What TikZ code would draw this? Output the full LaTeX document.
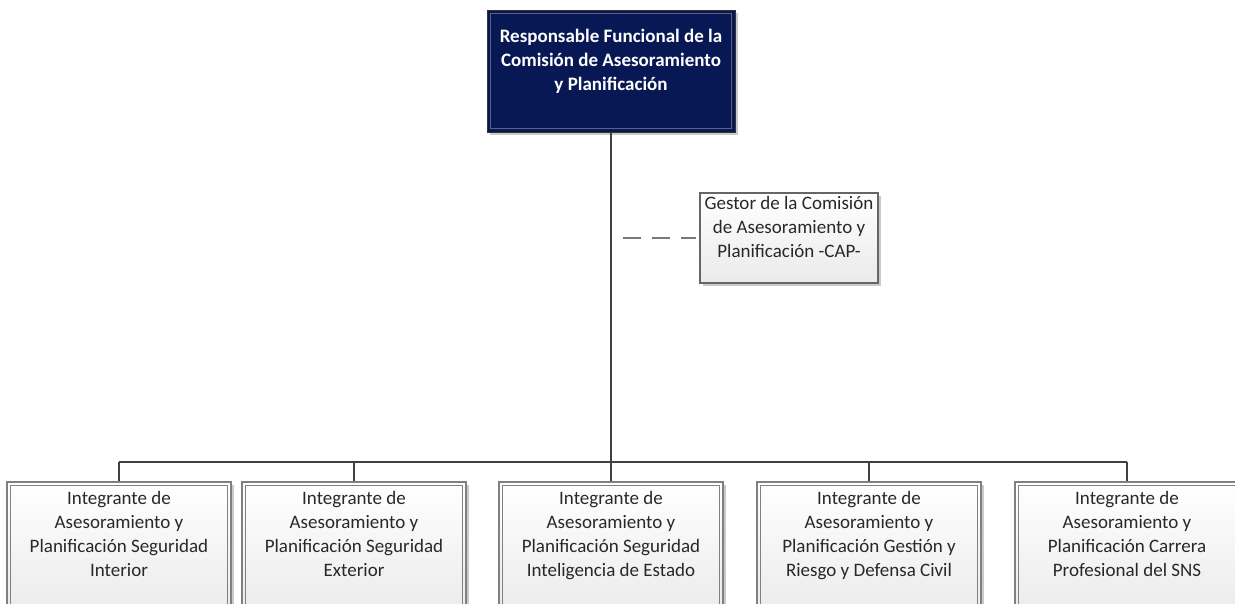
\documentclass[tikz,border=0pt]{standalone}
\usepackage{fontspec}
\setmainfont{Carlito}
\usetikzlibrary{shadows}

\definecolor{navyfill}{RGB}{8,24,84}
\definecolor{navyinner}{RGB}{90,100,130}
\definecolor{connline}{RGB}{64,64,64}
\definecolor{boxline}{RGB}{128,128,128}
\definecolor{boxgray}{RGB}{234,234,234}
\definecolor{textgray}{RGB}{40,40,40}
\definecolor{dashgray}{RGB}{120,120,120}

\begin{document}
\begin{tikzpicture}[x=1pt,y=-1pt,
  boxshadow/.style={drop shadow={shadow xshift=3pt,shadow yshift=-3pt,opacity=0.35,fill=black!60}},
  headbox/.style={draw=black!80,line width=1pt,fill=navyfill,minimum width=248pt,minimum height=122pt,inner sep=0pt,boxshadow},
  unitbox/.style={draw=boxline,line width=1.2pt,top color=white,bottom color=boxgray,minimum width=224pt,minimum height=138pt,inner sep=0pt,boxshadow},
  staffbox/.style={draw=black!60,line width=1.2pt,top color=white,bottom color=boxgray,minimum width=178pt,minimum height=90pt,inner sep=0pt,boxshadow},
  innerline/.style={draw=boxline,line width=1pt},
  headinner/.style={draw=navyinner,line width=0.8pt},
  labeltext/.style={anchor=north,align=center,inner sep=0pt,text=textgray,font=\fontsize{19}{24}\selectfont},
  headtext/.style={anchor=north,align=center,inner sep=0pt,text=white,font=\fontsize{19}{24}\selectfont\bfseries},
  conn/.style={draw=connline,line width=1.6pt},
  staffconn/.style={draw=dashgray,line width=2.4pt,dash pattern=on 18pt off 11pt,shorten <=12pt,shorten >=3pt}
]
\useasboundingbox (0,0) rectangle (1235,603);

% head of the commission
\node[headbox] (head) at (611,71) {};
\draw[headinner] ([shift={(4pt,-4pt)}]head.north west) rectangle ([shift={(-4pt,4pt)}]head.south east);
\node[headtext] (headlbl) at ([yshift=-19pt]head.north) {Responsable Funcional de la\\Comisión de Asesoramiento\\y Planificación};

% staff position
\node[staffbox] (staff) at (789,238) {};
\node[labeltext] (stafflbl) at ([yshift=-4pt]staff.north) {Gestor de la Comisión\\de Asesoramiento y\\Planificación -CAP-};

% unit members
\node[unitbox] (u1) at (119,551) {};
\node[unitbox] (u2) at (354,551) {};
\node[unitbox] (u3) at (611,551) {};
\node[unitbox] (u4) at (869,551) {};
\node[unitbox] (u5) at (1127,551) {};
\foreach \u in {u1,u2,u3,u4,u5}{
  \draw[innerline] ([shift={(4pt,-4pt)}]\u.north west) rectangle ([shift={(-4pt,4pt)}]\u.south east);
}
\node[labeltext] (u1lbl) at ([yshift=-10pt]u1.north) {Integrante de\\Asesoramiento y\\Planificación Seguridad\\Interior};
\node[labeltext] (u2lbl) at ([yshift=-10pt]u2.north) {Integrante de\\Asesoramiento y\\Planificación Seguridad\\Exterior};
\node[labeltext] (u3lbl) at ([yshift=-10pt]u3.north) {Integrante de\\Asesoramiento y\\Planificación Seguridad\\Inteligencia de Estado};
\node[labeltext] (u4lbl) at ([yshift=-10pt]u4.north) {Integrante de\\Asesoramiento y\\Planificación Gestión y\\Riesgo y Defensa Civil};
\node[labeltext] (u5lbl) at ([yshift=-10pt]u5.north) {Integrante de\\Asesoramiento y\\Planificación Carrera\\Profesional del SNS};

% connectors
\coordinate (bus) at (0,462);
\draw[conn] (head.south) -- (head.south |- bus);
\draw[conn] (u1.north |- bus) -- (u5.north |- bus);
\foreach \u in {u1,u2,u3,u4,u5}{
  \draw[conn] (\u.north |- bus) -- (\u.north);
}
\draw[staffconn] (head.south |- staff.west) -- (staff.west);
\end{tikzpicture}
\end{document}
